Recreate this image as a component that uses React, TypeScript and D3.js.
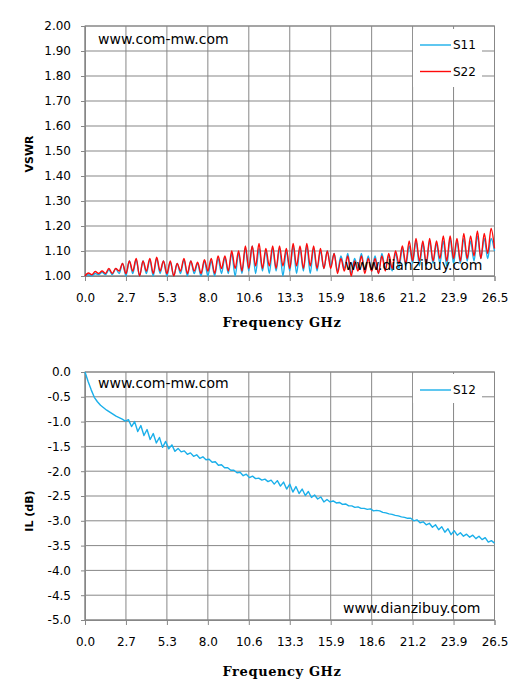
import { useEffect, useRef } from 'react';
import * as d3 from 'd3';

const WIDTH = 527;
const HEIGHT = 697;

// Frequency axis (GHz)
const FREQ_MAX = 26.5;
const X_TICK_LABELS = ['0.0', '2.7', '5.3', '8.0', '10.6', '13.3', '15.9', '18.6', '21.2', '23.9', '26.5'];

const VSWR_TICKS = [1.0, 1.1, 1.2, 1.3, 1.4, 1.5, 1.6, 1.7, 1.8, 1.9, 2.0];
const IL_TICKS = [0, -0.5, -1.0, -1.5, -2.0, -2.5, -3.0, -3.5, -4.0, -4.5, -5.0];

// S11 / S22 VSWR, sampled evenly over 0..26.5 GHz
const S11 = [
    1.0, 1.005, 1.0, 1.01, 1.005,
    1.015, 1.005, 1.025, 1.005, 1.03, 1.01, 1.05,
    1.0, 1.06, 1.01, 1.065, 1.0, 1.06, 1.01, 1.065, 1.0, 1.07, 1.01, 1.06,
    1.0, 1.055, 1.0, 1.05, 1.01, 1.065, 1.0, 1.06, 1.01, 1.05, 1.0, 1.06,
    1.0, 1.06, 1.0, 1.07, 1.01, 1.075, 1.01, 1.09, 1.0, 1.09, 1.01, 1.11,
    1.02, 1.12, 1.01, 1.11, 1.02, 1.1, 1.01, 1.11, 1.02, 1.11, 1.0, 1.1,
    1.02, 1.12, 1.01, 1.11, 1.02, 1.12, 1.01, 1.11, 1.02, 1.1, 1.03, 1.1,
    1.04, 1.09, 1.02, 1.08, 1.03, 1.09, 1.01, 1.07, 1.03, 1.09,
    1.02, 1.08, 1.02, 1.08, 1.01, 1.09, 1.03, 1.08,
    1.02, 1.09, 1.03, 1.11, 1.04, 1.12, 1.05, 1.14, 1.04, 1.13,
    1.04, 1.14, 1.05, 1.13, 1.05, 1.14, 1.04, 1.15, 1.05, 1.14,
    1.05, 1.15, 1.06, 1.14, 1.06, 1.16, 1.07, 1.15, 1.07, 1.15,
    1.1,
];

const S22 = [
    1.0, 1.012, 1.005, 1.018, 1.01,
    1.02, 1.01, 1.03, 1.01, 1.03, 1.02, 1.05,
    1.01, 1.06, 1.02, 1.07, 1.0, 1.06, 1.02, 1.07, 1.01, 1.075, 1.02, 1.06,
    1.01, 1.06, 1.0, 1.05, 1.02, 1.07, 1.01, 1.06, 1.02, 1.055, 1.01, 1.065,
    1.02, 1.07, 1.01, 1.08, 1.03, 1.08, 1.02, 1.1, 1.03, 1.1, 1.02, 1.12,
    1.03, 1.12, 1.04, 1.13, 1.03, 1.11, 1.04, 1.12, 1.03, 1.12, 1.04, 1.11,
    1.03, 1.13, 1.04, 1.12, 1.03, 1.13, 1.04, 1.12, 1.03, 1.11, 1.03, 1.1,
    1.03, 1.09, 1.01, 1.07, 1.02, 1.08, 1.0, 1.06, 1.02, 1.08,
    1.01, 1.07, 1.02, 1.07, 1.01, 1.08, 1.02, 1.09,
    1.03, 1.1, 1.05, 1.12, 1.05, 1.14, 1.06, 1.15, 1.06, 1.14,
    1.05, 1.15, 1.06, 1.14, 1.07, 1.16, 1.06, 1.16, 1.07, 1.15,
    1.06, 1.17, 1.07, 1.16, 1.08, 1.18, 1.07, 1.17, 1.09, 1.19,
    1.11,
];

// S12 insertion loss (dB), sampled evenly over 0..26.5 GHz
const S12 = [
    0.0, -0.19, -0.36, -0.51, -0.6, -0.67, -0.72, -0.77, -0.81, -0.85,
    -0.89, -0.92, -0.95, -0.99, -0.96, -1.1, -1.0, -1.2, -1.08, -1.28,
    -1.16, -1.36, -1.24, -1.43, -1.32, -1.52, -1.4, -1.55, -1.47, -1.6,
    -1.54, -1.61, -1.59, -1.66, -1.63, -1.7, -1.67, -1.74, -1.71, -1.77,
    -1.76, -1.82, -1.81, -1.88, -1.87, -1.93, -1.93, -1.98, -1.98, -2.03,
    -2.02, -2.09, -2.06, -2.13, -2.1, -2.15, -2.14, -2.18, -2.16, -2.21,
    -2.18, -2.26, -2.19, -2.3, -2.22, -2.36, -2.26, -2.42, -2.31, -2.45,
    -2.36, -2.49, -2.41, -2.53, -2.48, -2.56, -2.52, -2.62, -2.57, -2.62,
    -2.6, -2.64, -2.63, -2.67, -2.66, -2.7, -2.7, -2.73, -2.72, -2.75,
    -2.75, -2.77, -2.76, -2.8, -2.79, -2.8, -2.83, -2.84, -2.86, -2.87,
    -2.89, -2.9, -2.92, -2.93, -2.95, -2.95, -3.0, -2.98, -3.04, -3.02,
    -3.08, -3.05, -3.13, -3.08, -3.18, -3.12, -3.23, -3.16, -3.28, -3.2,
    -3.29, -3.24, -3.31, -3.27, -3.33, -3.29, -3.36, -3.31, -3.38, -3.34,
    -3.43, -3.4, -3.45,
];

const BLUE = '#1aafea';
const RED = '#ff0a0a';
const GRID = '#878787';
const TEXT_FONT = '"DejaVu Sans", Verdana, sans-serif';
const TITLE_FONT = '"DejaVu Serif", serif';

const PLOT_LEFT = 85;
const PLOT_RIGHT = 494.5;

interface Series {
    name: string;
    color: string;
    values: number[];
    smooth: boolean;
}

interface PanelOptions {
    top: number;
    bottom: number;
    yDomain: [number, number];
    yTicks: number[];
    yFormat: (d: number) => string;
    yTitle: string;
    yTitleCenter: number;
    series: Series[];
    legendTop: number;
    legendHeight: number;
    titleY: number;
    watermarkTopY: number;
    watermarkBottomY: number;
    watermarkBottomX: number;
}

function drawPanel(svg: d3.Selection<SVGSVGElement, unknown, null, undefined>, p: PanelOptions) {
    const g = svg.append('g');

    const x = d3.scaleLinear().domain([0, FREQ_MAX]).range([PLOT_LEFT, PLOT_RIGHT]);
    const y = d3.scaleLinear().domain(p.yDomain).range([p.bottom, p.top]);
    const xTickValues = X_TICK_LABELS.map((_, i) => (i * FREQ_MAX) / (X_TICK_LABELS.length - 1));

    // Grid lines
    g.append('g')
        .selectAll('line')
        .data(xTickValues)
        .enter()
        .append('line')
        .attr('x1', (d) => x(d))
        .attr('x2', (d) => x(d))
        .attr('y1', p.top)
        .attr('y2', p.bottom)
        .attr('stroke', GRID)
        .attr('stroke-width', 1);

    g.append('g')
        .selectAll('line')
        .data(p.yTicks)
        .enter()
        .append('line')
        .attr('x1', PLOT_LEFT)
        .attr('x2', PLOT_RIGHT)
        .attr('y1', (d) => y(d))
        .attr('y2', (d) => y(d))
        .attr('stroke', GRID)
        .attr('stroke-width', 1);

    // Axes
    const xAxis = d3
        .axisBottom(x)
        .tickValues(xTickValues)
        .tickSize(5)
        .tickPadding(12)
        .tickFormat((_, i) => X_TICK_LABELS[i]);

    const yAxis = d3.axisLeft(y).tickValues(p.yTicks).tickSize(4).tickPadding(10).tickFormat((d) => p.yFormat(d as number));

    [
        g.append('g').attr('transform', `translate(0,${p.bottom})`).call(xAxis),
        g.append('g').attr('transform', `translate(${PLOT_LEFT},0)`).call(yAxis),
    ].forEach((axis) => {
        axis.attr('font-family', TEXT_FONT).attr('font-size', 12);
        axis.select('.domain').attr('stroke', GRID);
        axis.selectAll('line').attr('stroke', GRID);
        axis.selectAll('text').attr('fill', '#000');
    });

    g.append('rect')
        .attr('x', PLOT_LEFT)
        .attr('y', p.top)
        .attr('width', PLOT_RIGHT - PLOT_LEFT)
        .attr('height', p.bottom - p.top)
        .attr('fill', 'none')
        .attr('stroke', GRID);

    // Curves
    p.series.forEach((s) => {
        const line = d3
            .line<number>()
            .x((_, i) => x((i * FREQ_MAX) / (s.values.length - 1)))
            .y((d) => y(d))
            .curve(s.smooth ? d3.curveMonotoneX : d3.curveLinear);

        g.append('path')
            .datum(s.values)
            .attr('fill', 'none')
            .attr('stroke', s.color)
            .attr('stroke-width', 1.4)
            .attr('stroke-linejoin', 'round')
            .attr('d', line);
    });

    // Legend
    const legend = g.append('g').attr('transform', `translate(413,${p.legendTop})`);
    legend.append('rect').attr('width', 69).attr('height', p.legendHeight).attr('fill', '#fff');

    p.series.forEach((s, i) => {
        const row = legend.append('g').attr('transform', `translate(0,${16 + i * 26.5})`);
        row.append('line').attr('x1', 7).attr('x2', 38).attr('stroke', s.color).attr('stroke-width', 1.4);
        row.append('text')
            .attr('x', 40)
            .attr('dy', '0.36em')
            .attr('font-family', TEXT_FONT)
            .attr('font-size', 12)
            .attr('fill', '#000')
            .text(s.name);
    });

    // Watermarks
    g.append('text')
        .attr('x', 98)
        .attr('y', p.watermarkTopY)
        .attr('font-family', TEXT_FONT)
        .attr('font-size', 14)
        .attr('fill', '#000')
        .text('www.com-mw.com');

    g.append('text')
        .attr('x', p.watermarkBottomX)
        .attr('y', p.watermarkBottomY)
        .attr('font-family', TEXT_FONT)
        .attr('font-size', 14)
        .attr('fill', '#000')
        .text('www.dianzibuy.com');

    // Axis titles
    g.append('text')
        .attr('x', 282)
        .attr('y', p.titleY)
        .attr('text-anchor', 'middle')
        .attr('font-family', TITLE_FONT)
        .attr('font-weight', 'bold')
        .attr('font-size', 13)
        .attr('letter-spacing', 0.6)
        .text('Frequency GHz');

    g.append('text')
        .attr('transform', `translate(33,${p.yTitleCenter}) rotate(-90)`)
        .attr('text-anchor', 'middle')
        .attr('font-family', TEXT_FONT)
        .attr('font-weight', 'bold')
        .attr('font-size', 11)
        .text(p.yTitle);
}

export default function App() {
    const svgRef = useRef<SVGSVGElement>(null);

    useEffect(() => {
        if (!svgRef.current) return;
        document.body.style.margin = '0';

        const svg = d3.select(svgRef.current);
        svg.selectAll('*').remove();

        svg.append('rect').attr('width', WIDTH).attr('height', HEIGHT).attr('fill', '#fff');

        drawPanel(svg, {
            top: 26,
            bottom: 276,
            yDomain: [1, 2],
            yTicks: VSWR_TICKS,
            yFormat: (d) => d.toFixed(2),
            yTitle: 'VSWR',
            yTitleCenter: 154,
            series: [
                { name: 'S11', color: BLUE, values: S11, smooth: true },
                { name: 'S22', color: RED, values: S22, smooth: true },
            ],
            legendTop: 29,
            legendHeight: 58,
            titleY: 327,
            watermarkTopY: 44,
            watermarkBottomY: 270,
            watermarkBottomX: 345,
        });

        drawPanel(svg, {
            top: 372,
            bottom: 620,
            yDomain: [-5, 0],
            yTicks: IL_TICKS,
            yFormat: (d) => d.toFixed(1),
            yTitle: 'IL (dB)',
            yTitleCenter: 511,
            series: [{ name: 'S12', color: BLUE, values: S12, smooth: false }],
            legendTop: 374,
            legendHeight: 29,
            titleY: 676,
            watermarkTopY: 388,
            watermarkBottomY: 613,
            watermarkBottomX: 343,
        });
    }, []);

    return <svg ref={svgRef} width={WIDTH} height={HEIGHT} style={{ display: 'block' }} />;
}
